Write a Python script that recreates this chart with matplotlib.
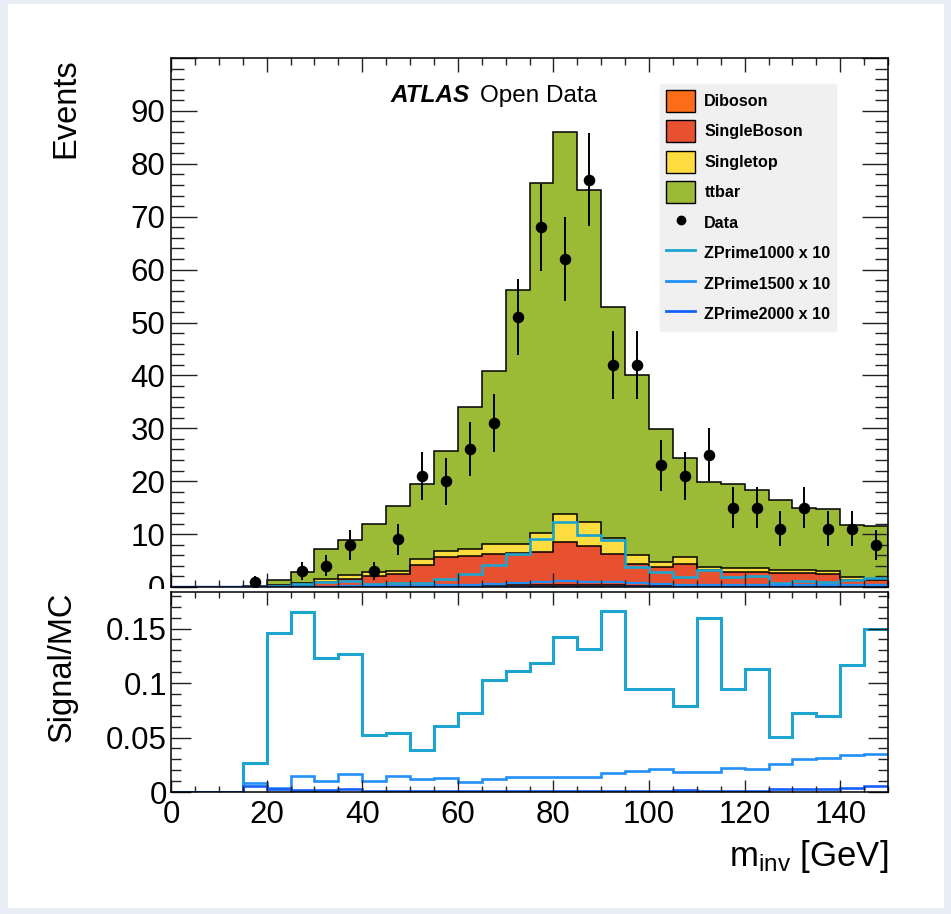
import numpy as np
import matplotlib
matplotlib.use('Agg')
import matplotlib.pyplot as plt
from matplotlib.patches import Rectangle, Patch
from matplotlib.lines import Line2D
from matplotlib.ticker import MultipleLocator, FuncFormatter

# ---------------- data (30 bins of 5 GeV, 0-150 GeV) ----------------
edges = np.arange(0, 155, 5)
diboson = [0, 0, 0, 0, 0, 0.02, 0.05, 0.1, 0.1, 0.15, 0.2, 0.2, 0.25, 0.3, 0.3,
           0.35, 0.4, 0.35, 0.3, 0.25, 0.2, 0.2, 0.15, 0.15, 0.15, 0.1, 0.1, 0.1, 0.1, 0.1]
singleboson = [0, 0, 0, 0, 0.1, 0.38, 0.95, 1.5, 2.0, 2.35, 4.0, 5.5, 5.55, 6.0, 6.1,
               6.25, 8.1, 7.35, 5.9, 4.15, 3.6, 4.2, 3.05, 2.65, 2.65, 2.6, 2.6, 2.4, 1.2, 1.2]
singletop = [0, 0, 0, 0, 0.2, 0.4, 0.6, 0.7, 0.8, 0.6, 1.0, 1.1, 1.4, 1.9, 1.8,
             3.7, 5.3, 4.5, 3.0, 1.7, 0.9, 1.2, 0.6, 0.8, 0.8, 0.5, 0.6, 0.5, 0.5, 0.3]
ttbar = [0, 0, 0, 0.15, 1.0, 2.1, 5.5, 6.6, 9.0, 12.2, 14.2, 19.0, 26.8, 32.7, 48.0,
         66.1, 72.2, 62.9, 43.8, 33.9, 25.1, 18.7, 16.1, 15.8, 14.7, 13.2, 11.6, 11.7, 9.9, 9.9]
data = [0, 0, 0, 1, 0, 3, 4, 8, 3, 9, 21, 20, 26, 31, 51,
        68, 62, 77, 42, 42, 23, 21, 25, 15, 15, 11, 15, 11, 11, 8]
zp1000 = [0, 0, 0, 0.004, 0.19, 0.48, 0.87, 1.13, 0.62, 0.83, 0.74, 1.56, 2.45, 4.2, 6.24,
          9.07, 12.26, 9.84, 8.8, 3.78, 2.82, 1.92, 3.18, 1.83, 2.06, 0.83, 1.08, 1.02, 1.36, 1.72]
zp1500 = [0, 0, 0, 0.0013, 0.0044, 0.043, 0.074, 0.144, 0.124, 0.23, 0.23, 0.34, 0.31, 0.49, 0.76,
          1.03, 1.16, 1.01, 0.94, 0.77, 0.62, 0.45, 0.37, 0.43, 0.38, 0.42, 0.45, 0.46, 0.40, 0.40]
zp2000 = [0, 0, 0, 0.0008, 0.003, 0.006, 0.016, 0.022, 0.012, 0.015, 0.019, 0.026, 0.034, 0.041, 0.056,
          0.076, 0.086, 0.075, 0.032, 0.024, 0.018, 0.049, 0.024, 0.016, 0.015, 0.049, 0.045, 0.044, 0.041, 0.063]

bkg_names = ['Diboson', 'SingleBoson', 'Singletop', 'ttbar']
bkg_values = [diboson, singleboson, singletop, ttbar]
bkg_colors = ['#fd6c17', '#e8512f', '#fddc3f', '#9bba35']
sig_names = ['ZPrime1000 x 10', 'ZPrime1500 x 10', 'ZPrime2000 x 10']
sig_values = [zp1000, zp1500, zp2000]
sig_colors = ['#1ea5cf', '#2290f7', '#1560fb']
sig_lw = [1.9, 1.6, 1.6]

# ---------------- style ----------------
plt.rcParams['font.family'] = ['Liberation Sans', 'DejaVu Sans']
plt.rcParams['mathtext.fontset'] = 'custom'
plt.rcParams['mathtext.rm'] = 'Liberation Sans'
plt.rcParams['mathtext.it'] = 'Liberation Sans:italic'

W, H = 951, 914
fig = plt.figure(figsize=(W / 100, H / 100), dpi=100, facecolor='#e9eef6')
fig.add_artist(Rectangle((8 / W, 1 - 908 / H), (944 - 8) / W, (908 - 4) / H,
                         transform=fig.transFigure, facecolor='white',
                         edgecolor='none', zorder=-1))

ax1 = fig.add_axes([171 / W, 1 - 587 / H, 717 / W, 529 / H], zorder=0)
# lower pad cover (hides lower half of the upper "0" label like ROOT pads)
fig.add_artist(Rectangle((8 / W, 1 - 908 / H), (944 - 8) / W, (908 - 589) / H,
                         transform=fig.transFigure, facecolor='white',
                         edgecolor='none', zorder=1))
ax2 = fig.add_axes([171 / W, 1 - 792 / H, 717 / W, 200 / H], zorder=2)

TICKFS = 22.5

# ---------------- upper panel ----------------
cum = np.zeros(len(edges) - 1)
tops = []
for vals, col in zip(bkg_values, bkg_colors):
    v = np.asarray(vals, float)
    ax1.stairs(cum + v, edges, baseline=cum.copy(), fill=True, facecolor=col,
               edgecolor='none', lw=0)
    cum = cum + v
    tops.append(cum.copy())
for t in tops:
    ax1.stairs(t, edges, baseline=0, fill=False, color='black', lw=1.1)

for vals, col, lw in zip(sig_values, sig_colors, sig_lw):
    ax1.stairs(vals, edges, baseline=None, color=col, lw=lw)

centers = 0.5 * (edges[:-1] + edges[1:])
d = np.asarray(data, float)
m = d > 0
ax1.errorbar(centers[m], d[m], yerr=np.sqrt(d[m]), fmt='o', color='black',
             ms=7.3, elinewidth=1.4, capsize=0, zorder=5)

ax1.set_xlim(0, 150)
ax1.set_ylim(0, 100)
ax1.xaxis.set_major_locator(MultipleLocator(20))
ax1.xaxis.set_minor_locator(MultipleLocator(5))
ax1.yaxis.set_major_locator(MultipleLocator(10))
ax1.yaxis.set_minor_locator(MultipleLocator(2))
ax1.yaxis.set_major_formatter(FuncFormatter(lambda v, p: '' if v > 95 else '%d' % round(v)))
ax1.tick_params(axis='x', which='both', labelbottom=False, direction='in',
                top=True, bottom=True, width=1.0, color='#222222')
ax1.tick_params(axis='x', which='major', length=10)
ax1.tick_params(axis='x', which='minor', length=5)
ax1.tick_params(axis='y', which='both', direction='in', left=True, right=True,
                width=1.0, color='#222222', labelsize=TICKFS, pad=4)
ax1.tick_params(axis='y', which='major', length=18.5)
ax1.tick_params(axis='y', which='minor', length=9.5)
for s in ax1.spines.values():
    s.set_linewidth(1.1)

handles = [Patch(facecolor=c, edgecolor='black', lw=1.0) for c in bkg_colors]
handles.append(Line2D([], [], marker='o', color='black', ls='none', ms=6))
handles += [Line2D([], [], color=c, lw=2.0) for c in sig_colors]
labels = bkg_names + ['Data'] + sig_names
leg = ax1.legend(handles, labels, loc='upper left', bbox_to_anchor=(0.682, 0.951),
                 borderaxespad=0, prop={'weight': 'bold', 'size': 11.6},
                 handlelength=1.85, handleheight=1.72, labelspacing=0.53,
                 handletextpad=0.55, borderpad=0.35, fancybox=False,
                 frameon=True, facecolor='#f0f0f0', edgecolor='#f0f0f0',
                 framealpha=1)

fig.text(390 / W, 1 - 102 / H, 'ATLAS', fontsize=17.5, fontweight='bold',
         fontstyle='italic', ha='left', va='baseline')
fig.text(480 / W, 1 - 102 / H, 'Open Data', fontsize=17.5, ha='left', va='baseline')

fig.text(66 / W, 1 - 58 / H, 'Events', rotation=90, ha='center', va='top', fontsize=23.5)

# ---------------- lower panel ----------------
tot = cum
for vals, col, lw in zip(sig_values, sig_colors, sig_lw):
    v = np.asarray(vals, float)
    ratio = np.divide(v, tot, out=np.zeros_like(v), where=tot > 0)
    ax2.stairs(ratio, edges, baseline=None, color=col, lw=lw + 0.3)

ax2.set_xlim(0, 150)
ax2.set_ylim(0, 0.1835)
ax2.xaxis.set_major_locator(MultipleLocator(20))
ax2.xaxis.set_minor_locator(MultipleLocator(5))
ax2.yaxis.set_major_locator(MultipleLocator(0.05))
ax2.yaxis.set_minor_locator(MultipleLocator(0.01))
ax2.yaxis.set_major_formatter(FuncFormatter(lambda v, p: '%g' % round(v, 3)))
ax2.xaxis.set_major_formatter(FuncFormatter(lambda v, p: '%d' % round(v)))
ax2.tick_params(axis='both', which='both', direction='in', top=True, right=True,
                width=1.0, color='#222222', labelsize=TICKFS)
ax2.tick_params(axis='x', which='major', length=9, pad=6)
ax2.tick_params(axis='x', which='minor', length=4.5)
ax2.tick_params(axis='y', which='major', length=14.5, pad=3)
ax2.tick_params(axis='y', which='minor', length=7.2)
for s in ax2.spines.values():
    s.set_linewidth(1.1)

fig.text(62 / W, 1 - 591 / H, 'Signal/MC', rotation=90, ha='center', va='top', fontsize=23.5)
fig.text(888 / W, 1 - 866 / H, r'm$_{\mathregular{inv}}$ [GeV]', ha='right',
         va='baseline', fontsize=25)

fig.savefig('out.png', dpi=100, facecolor=fig.get_facecolor())
